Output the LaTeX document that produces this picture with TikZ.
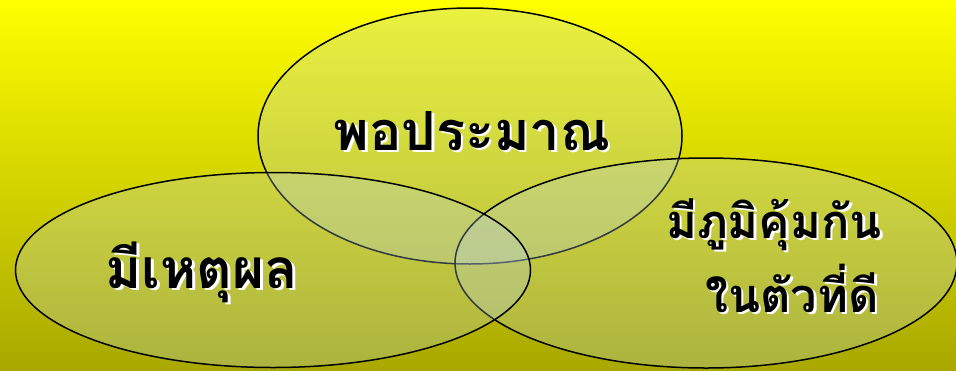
\documentclass[tikz,border=0pt]{standalone}
\usepackage{fontspec}
\newfontfamily\thaifont[Script=Thai]{Loma}
\usetikzlibrary{shapes.geometric}
\definecolor{bgtop}{RGB}{255,255,0}
\definecolor{bgbot}{RGB}{168,168,0}
\definecolor{vennfill}{RGB}{185,210,235}
\tikzset{
  venn/.style={ellipse, draw=black, line width=1.5pt, fill=vennfill, fill opacity=0.27, draw opacity=1, inner sep=0pt},
  lab/.style={font=\thaifont\bfseries\fontsize{#1}{#1}\selectfont, inner sep=0pt, text=black, anchor=base},
  labw/.style={lab=#1, text=white},
}
\begin{document}
\begin{tikzpicture}[x=1pt,y=-1pt]
\useasboundingbox (0,0) rectangle (956,370);
\shade[top color=bgtop, bottom color=bgbot] (0,0) rectangle (956,370);
\node[venn, minimum width=424pt, minimum height=256pt] (top) at (470,136) {};
\node[venn, minimum width=502pt, minimum height=210pt] (right) at (706,263) {};
\node[venn, minimum width=515pt, minimum height=195pt] (left) at (273,270) {};
\node[labw=54] (topw) at (474.5,152.5) {พอประมาณ};
\node[lab=54] (topt) at (472,150) {พอประมาณ};
\node[labw=55] (leftw) at (204.5,290.5) {มีเหตุผล};
\node[lab=55] (leftt) at (202,288) {มีเหตุผล};
\node[labw=47] (r1w) at (776.5,240.5) {มีภูมิคุ้มกัน};
\node[lab=47] (r1t) at (774,238) {มีภูมิคุ้มกัน};
\node[labw=47] (r2w) at (794.5,314.5) {ในตัวที่ดี};
\node[lab=47] (r2t) at (792,312) {ในตัวที่ดี};
\end{tikzpicture}
\end{document}
